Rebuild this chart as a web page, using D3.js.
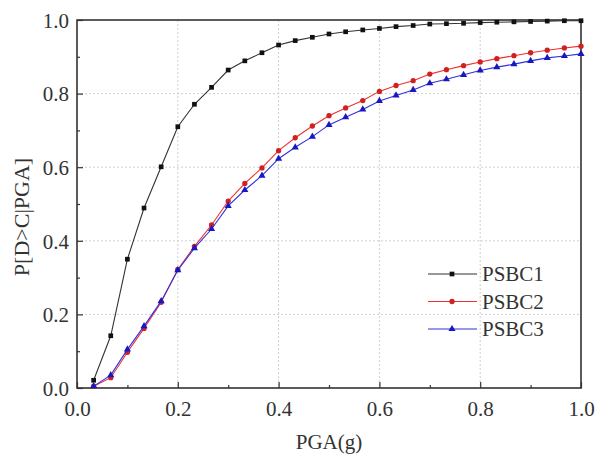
<!DOCTYPE html>
<html><head><meta charset="utf-8">
<script src="https://cdn.jsdelivr.net/npm/d3@7"></script>
<style>body{margin:0;background:#fff}svg{display:block}</style>
</head><body><svg id="c" width="596" height="457"></svg>
<script>
const pga = [0.033,0.067,0.1,0.133,0.167,0.2,0.233,0.267,0.3,0.333,0.367,0.4,0.433,0.467,0.5,0.533,0.567,0.6,0.633,0.667,0.7,0.733,0.767,0.8,0.833,0.867,0.9,0.933,0.967,1.0];
const psbc1 = [0.021,0.142,0.350,0.489,0.601,0.710,0.771,0.817,0.864,0.889,0.911,0.932,0.944,0.953,0.962,0.968,0.973,0.977,0.982,0.985,0.989,0.990,0.991,0.993,0.994,0.995,0.996,0.997,0.998,0.998];
const psbc2 = [0.005,0.028,0.097,0.162,0.233,0.322,0.385,0.443,0.508,0.556,0.598,0.645,0.680,0.712,0.740,0.761,0.781,0.806,0.822,0.835,0.853,0.865,0.876,0.886,0.895,0.903,0.911,0.918,0.924,0.929];
const psbc3 = [0.005,0.035,0.105,0.168,0.236,0.320,0.380,0.432,0.495,0.538,0.577,0.623,0.654,0.683,0.715,0.736,0.757,0.780,0.795,0.810,0.828,0.839,0.851,0.863,0.872,0.880,0.889,0.897,0.902,0.908];
const seriesNames = ["PSBC1","PSBC2","PSBC3"];
const majorTicks = [0,0.2,0.4,0.6,0.8,1.0];
const minorTicks = [0.1,0.3,0.5,0.7,0.9];
const xTitle = "PGA(g)", yTitle = "P[D>C|PGA]";

const FONT = '"Liberation Serif","Times New Roman",serif';
const svg = d3.select("#c");
const L=77,R=581,T=20,B=388;
const x = d3.scaleLinear().domain([0,1]).range([L,R]);
const y = d3.scaleLinear().domain([0,1]).range([B,T]);

// grid
const g = svg.append("g");
g.selectAll(".gx").data(majorTicks.slice(1,-1)).join("line")
 .attr("x1",d=>x(d)).attr("x2",d=>x(d)).attr("y1",T).attr("y2",B)
 .attr("stroke","#cfcfcf").attr("stroke-width",1).attr("stroke-dasharray","2,2");
g.selectAll(".gy").data(majorTicks.slice(1,-1)).join("line")
 .attr("y1",d=>y(d)).attr("y2",d=>y(d)).attr("x1",L).attr("x2",R)
 .attr("stroke","#cfcfcf").attr("stroke-width",1).attr("stroke-dasharray","2,2");

const fmt = d3.format(".1f");
const xAxis = svg.append("g").attr("transform",`translate(0,${B})`)
 .call(d3.axisBottom(x).tickValues(majorTicks).tickFormat(fmt).tickSizeInner(-6).tickSizeOuter(0).tickPadding(13));
const xMinor = svg.append("g").attr("transform",`translate(0,${B})`)
 .call(d3.axisBottom(x).tickValues(minorTicks).tickFormat("").tickSizeInner(-3).tickSizeOuter(0));
const yAxis = svg.append("g").attr("transform",`translate(${L},0)`)
 .call(d3.axisLeft(y).tickValues(majorTicks).tickFormat(fmt).tickSizeInner(-6).tickSizeOuter(0).tickPadding(8));
const yMinor = svg.append("g").attr("transform",`translate(${L},0)`)
 .call(d3.axisLeft(y).tickValues(minorTicks).tickFormat("").tickSizeInner(-3).tickSizeOuter(0));
[xAxis,xMinor,yAxis,yMinor].forEach(a=>{a.attr("font-family",FONT);a.selectAll("path").remove();a.selectAll("line").attr("stroke","#333").attr("stroke-width",1.2);});
[xAxis,yAxis].forEach(a=>a.selectAll("text").attr("font-size",21).attr("font-family",FONT).attr("fill","#333"));
xAxis.selectAll("text").attr("dy","0.71em");
yAxis.selectAll("text").attr("dy","0.35em");
svg.append("rect").attr("x",L).attr("y",T).attr("width",R-L).attr("height",B-T)
 .attr("fill","none").attr("stroke","#333").attr("stroke-width",1.6);

svg.append("text").attr("x",(L+R)/2).attr("y",449).attr("text-anchor","middle").attr("font-size",21).attr("font-family",FONT).attr("fill","#333").text(xTitle);
svg.append("text").attr("transform","translate(29,217) rotate(-90)").attr("text-anchor","middle").attr("font-size",22).attr("font-family",FONT).attr("fill","#333").text(yTitle);

const styles = [
 {vals:psbc1,line:"#333",fill:"#111",shape:d3.symbolSquare,size:22},
 {vals:psbc2,line:"#f03030",fill:"#d02020",shape:d3.symbolCircle,size:22},
 {vals:psbc3,line:"#3030e0",fill:"#1818c0",shape:d3.symbolTriangle,size:22}
];
const line = d3.line().x(d=>x(d[0])).y(d=>y(d[1]));
styles.forEach(s=>{
 const data = pga.map((p,i)=>[p,s.vals[i]]);
 svg.append("path").datum(data).attr("d",line).attr("fill","none").attr("stroke",s.line).attr("stroke-width",1.1);
 svg.append("g").selectAll("path").data(data).join("path")
  .attr("transform",d=>`translate(${x(d[0])},${y(d[1])})`)
  .attr("d",d3.symbol().type(s.shape).size(s.size)).attr("fill",s.fill);
});

const lg = svg.append("g");
seriesNames.forEach((n,i)=>{
 const s=styles[i], yy=274+i*27.5;
 lg.append("line").attr("x1",428).attr("x2",477).attr("y1",yy).attr("y2",yy).attr("stroke",s.line).attr("stroke-width",1.1);
 lg.append("path").attr("transform",`translate(452,${yy})`).attr("d",d3.symbol().type(s.shape).size(s.size)).attr("fill",s.fill);
 lg.append("text").attr("x",482).attr("y",yy).attr("dy","0.35em").attr("font-size",21).attr("font-family",FONT).attr("fill","#333").text(n);
});
</script></body></html>
